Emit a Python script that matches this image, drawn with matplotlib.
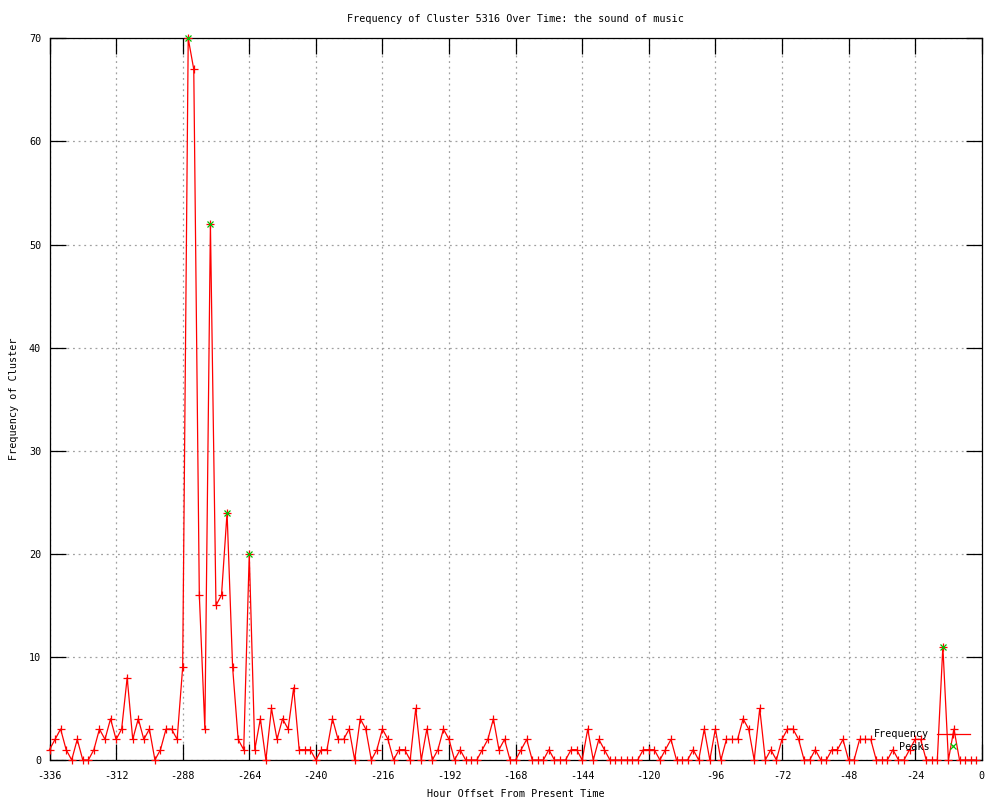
import matplotlib
matplotlib.use("Agg")
import matplotlib.pyplot as plt
from matplotlib.lines import Line2D

plt.rcParams['font.family'] = ['DejaVu Sans Mono']
plt.rcParams['axes.unicode_minus'] = False

hours = list(range(-336, 0, 2))
frequency = [
    1, 2, 3, 1, 0, 2, 0, 0, 1, 3, 2, 4, 2, 3, 8, 2, 4, 2, 3, 0, 1, 3, 3, 2,   # -336..-290
    9, 70, 67, 16, 3, 52, 15, 16, 24, 9, 2, 1, 20, 1, 4, 0, 5, 2, 4, 3,      # -288..-250
    7, 1, 1, 1, 0, 1, 1, 4, 2, 2, 3, 0, 4, 3, 0, 1, 3, 2, 0, 1, 1, 0,         # -248..-206
    5, 0, 3, 0, 1, 3, 2, 0, 1, 0, 0, 0, 1, 2, 4, 1, 2, 0, 0, 1, 2, 0,         # -204..-162
    0, 0, 1, 0, 0, 0, 1, 1, 0, 3, 0, 2, 1, 0, 0, 0, 0, 0, 0, 1, 1, 1,         # -160..-118
    0, 1, 2, 0, 0, 0, 1, 0, 3, 0, 3, 0, 2, 2, 2, 4, 3, 0, 5, 0, 1, 0,         # -116..-74
    2, 3, 3, 2, 0, 0, 1, 0, 0, 1, 1, 2, 0, 0, 2, 2, 2, 0, 0, 0, 1, 0,         # -72..-30
    0, 1, 2, 2, 0, 0, 0, 11, 0, 3, 0, 0, 0, 0,                                # -28..-2
]
peak_hours = [-286, -278, -272, -264, -14]
peak_values = [70, 52, 24, 20, 11]

x_ticks = list(range(-336, 1, 24))
y_ticks = list(range(0, 71, 10))

RED = '#ff0000'
GREEN = '#00c000'
FS = 7.3

fig = plt.figure(figsize=(10, 8), dpi=100)
ax = fig.add_axes([0.0495, 0.05, 0.9817 - 0.0495, 0.952 - 0.05])

ax.plot(hours, frequency, color=RED, lw=0.9, marker='+', ms=6, mew=0.9,
        clip_on=False, zorder=3, label='Frequency')
ax.plot(peak_hours, peak_values, ls='none', color=GREEN, marker='x', ms=5,
        mew=0.9, clip_on=False, zorder=4, label='Peaks')

ax.set_xlim(-336, 0)
ax.set_ylim(0, 70)
ax.set_xticks(x_ticks)
ax.set_xticklabels([str(t) for t in x_ticks])
ax.set_yticks(y_ticks)
ax.set_yticklabels([str(t) for t in y_ticks])

ax.tick_params(direction='in', length=11.5, width=0.9, top=True, right=True,
               labelsize=FS, pad=6, colors='black')
ax.tick_params(axis='x', pad=8)
ax.grid(True, color='#a0a0a0', ls=(0, (1.5, 3)), lw=0.9)
ax.set_axisbelow(True)
for s in ax.spines.values():
    s.set_linewidth(0.9)
    s.set_zorder(2.5)

ax.set_title('Frequency of Cluster 5316 Over Time: the sound of music',
             fontsize=FS, pad=12)
ax.set_xlabel('Hour Offset From Present Time', fontsize=FS, labelpad=5.5)
ax.set_ylabel('Frequency of Cluster', fontsize=FS, labelpad=7)

handles = [Line2D([], [], color=RED, lw=0.9, marker='+', ms=6, mew=0.9),
           Line2D([], [], ls='none', color=GREEN, marker='x', ms=5, mew=0.9)]
ax.legend(handles, ['Frequency', 'Peaks'], loc='lower right',
          bbox_to_anchor=(0.970, 1 - 752 / 800), bbox_transform=fig.transFigure,
          frameon=False, markerfirst=False, fontsize=FS, handlelength=3.3,
          handletextpad=0.7, labelspacing=0.25, borderpad=0, borderaxespad=0)

fig.savefig('out.png', dpi=100)
